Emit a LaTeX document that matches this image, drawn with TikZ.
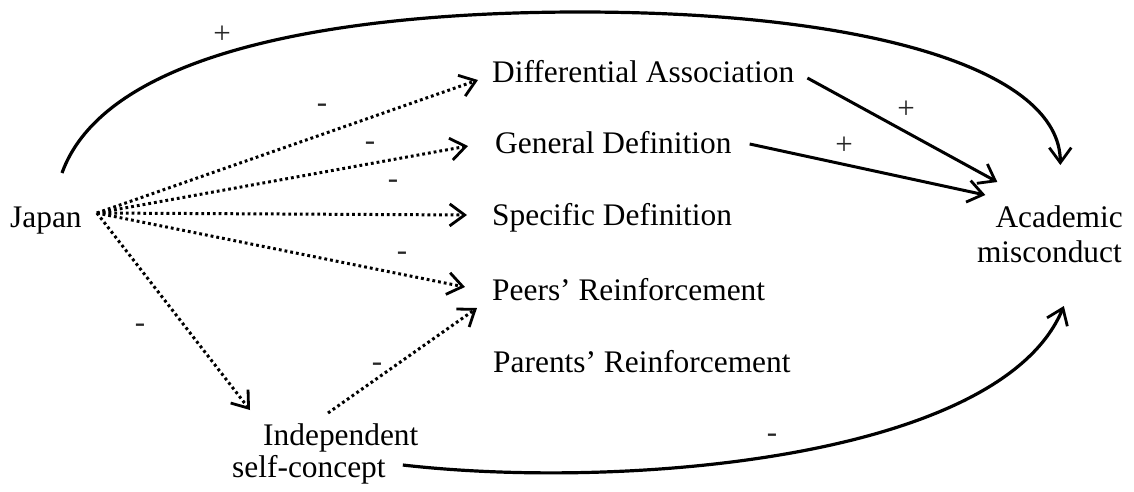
\documentclass[tikz,border=0pt]{standalone}
\usepackage{fontspec}
\setmainfont{Liberation Serif}
\usetikzlibrary{arrows.meta}
\begin{document}
\begin{tikzpicture}[x=1pt,y=-1pt,
  lbl/.style={inner sep=0pt, anchor=base west, font=\fontsize{31.4}{36}\selectfont},
  lble/.style={lbl, anchor=base east},
  sign/.style={inner sep=0pt, text=black!85, font=\fontsize{31}{34}\selectfont},
  link/.style={line width=3pt, -{Straight Barb[length=15pt,width=22pt,line width=2.8pt]}},
  dotlink/.style={link, dash pattern=on 2.8pt off 3pt},
  arc/.style={line width=3.2pt, -{Straight Barb[length=15pt,width=22pt,line width=2.8pt]}}
]
\useasboundingbox (0,0) rectangle (1134,491);

% variables
\node[lbl] (japan) at (10,227) {Japan};
\node[lbl] (da) at (492,82) {Differential Association};
\node[lbl] (gd) at (495,153) {General Definition};
\node[lbl] (sd) at (492,225) {Specific Definition};
\node[lbl] (pr) at (492,300) {Peers’ Reinforcement};
\node[lbl] (par) at (493,372) {Parents’ Reinforcement};
\node[lbl] (ind) at (263,445) {Independent};
\node[lbl] (self) at (232,477) {self-concept};
\node[lble] (am) at (1123,227) {Academic};
\node[lble] (mis) at (1122,262) {misconduct};

% dotted paths out of Japan
\draw[dotlink] ([shift={(15,-14)}]japan.base east) -- ([shift={(-14,-2)}]da.base west);
\draw[dotlink] ([shift={(15,-14)}]japan.base east) -- ([shift={(-27,-7)}]gd.base west);
\draw[dotlink] ([shift={(15,-14)}]japan.base east) -- ([shift={(-25,-10)}]sd.base west);
\draw[dotlink] ([shift={(15,-14)}]japan.base east) -- ([shift={(-27,-13)}]pr.base west);
\draw[dotlink] ([shift={(15,-14)}]japan.base east) -- ([shift={(-13,-35)}]ind.base west);
\draw[dotlink] ([shift={(65,-32)}]ind.base west) -- ([shift={(-15,8)}]pr.base west);

% solid paths into Academic misconduct
\draw[link] ([shift={(13,-4)}]da.base east) -- ([shift={(2,-45)}]am.base west);
\draw[link] ([shift={(18,-9)}]gd.base east) -- ([shift={(-10,-32)}]am.base west);
\draw[arc] ([shift={(52,-54)}]japan.base west)
  .. controls (110,40) and (380,12) .. (580,12)
  .. controls (870,12) and (1060,70) .. ([shift={(65,-62)}]am.base west);
\draw[arc] ([shift={(17,-12)}]self.base east)
  .. controls (620,490) and (1000,460) .. ([shift={(87,44)}]mis.base west);

% signs
\node[sign] (s1) at (222,35) {+};
\node[sign] (s2) at (322,108) {-};
\node[sign] (s3) at (370,146) {-};
\node[sign] (s4) at (393,184) {-};
\node[sign] (s5) at (402,256) {-};
\node[sign] (s6) at (140,328) {-};
\node[sign] (s7) at (377,367) {-};
\node[sign] (s8) at (906,110) {+};
\node[sign] (s9) at (844,146) {+};
\node[sign] (s10) at (772,438) {-};
\end{tikzpicture}
\end{document}
